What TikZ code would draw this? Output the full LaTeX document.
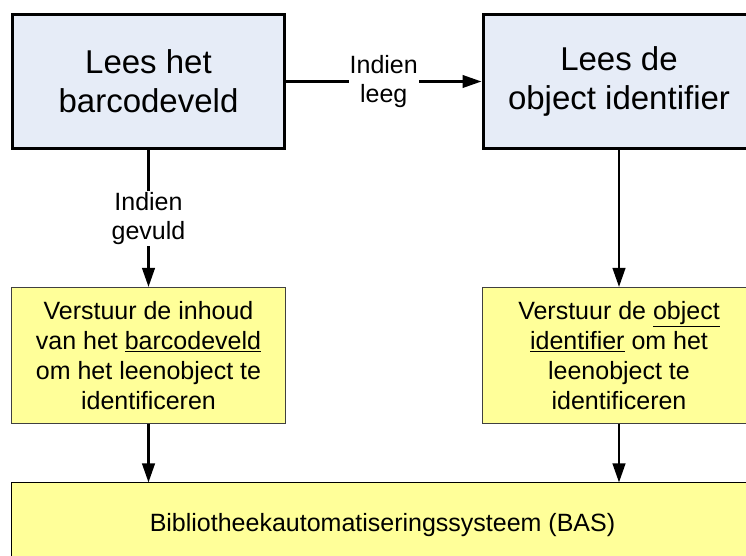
\documentclass[tikz,border=0pt]{standalone}
\usepackage{fontspec}
\setmainfont{Liberation Sans}
\usetikzlibrary{arrows.meta}
\definecolor{readfill}{HTML}{E6ECF7}
\definecolor{sendfill}{HTML}{FFFF99}
\definecolor{sendline}{HTML}{404040}
\begin{document}
\begin{tikzpicture}[x=1pt,y=1pt,
  readbox/.style={draw=black, line width=3pt, fill=readfill, inner sep=0pt,
    minimum width=272pt, minimum height=134pt, align=center,
    font=\fontsize{33}{39}\selectfont},
  sendbox/.style={draw=sendline, line width=1pt, fill=sendfill, inner sep=0pt,
    minimum width=274pt, minimum height=136pt, align=center,
    font=\fontsize{25}{30}\selectfont},
  flow/.style={line width=2.5pt, -{Triangle[length=19pt,width=12.5pt]}},
  cond/.style={fill=white, inner sep=1pt, align=center,
    font=\fontsize{25}{29.5}\selectfont}]
\useasboundingbox (0,0) rectangle (746,556);
\clip (0,0) rectangle (746,556);

% reading steps
\node[readbox] (tl) at (148.5,474.5) {Lees het\\barcodeveld};
\node[readbox] (tr) at (619,474.5) {Lees de\\object identifier};

% sending steps
\node[sendbox] (yl) at (148.5,200.5)
  {Verstuur de inhoud\\van het \underline{barcodeveld}\\om het leenobject te\\identificeren};
\node[sendbox] (yr) at (619,200.5)
  {Verstuur de \underline{object}\\\underline{identifier} om het\\leenobject te\\identificeren};

% receiving system
\node[draw=black, line width=1pt, fill=sendfill, inner sep=0pt,
  minimum width=743pt, minimum height=84pt,
  font=\fontsize{25}{30}\selectfont] (bas) at (382.5,31)
  {Bibliotheekautomatiseringssysteem (BAS)};

% connectors
\draw[flow] (tl.east) -- node[cond] {Indien\\leeg} (tr.west);
\draw[flow] (tl.south) -- node[cond] {Indien\\gevuld} (yl.north);
\draw[flow] (tr.south) -- (yr.north);
\draw[flow] (yl.south) -- (yl.south |- bas.north);
\draw[flow] (yr.south) -- (yr.south |- bas.north);
\end{tikzpicture}
\end{document}
